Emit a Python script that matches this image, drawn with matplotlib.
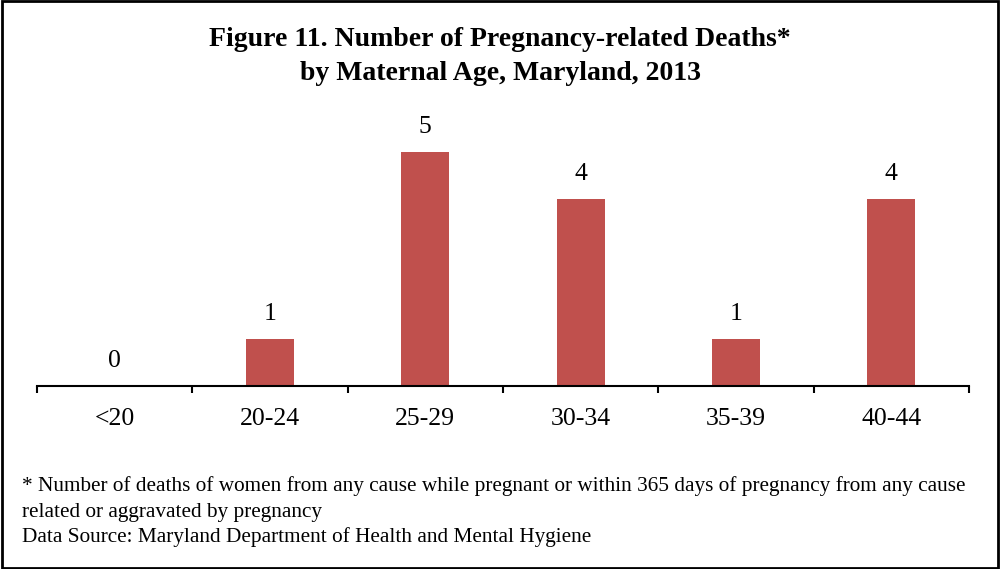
import matplotlib.pyplot as plt
from matplotlib.patches import Rectangle

# Data
age_groups = ['<20', '20-24', '25-29', '30-34', '35-39', '40-44']
deaths = [0, 1, 5, 4, 1, 4]

plt.rcParams['font.family'] = ['Liberation Serif', 'DejaVu Serif']

fig = plt.figure(figsize=(10, 5.69), dpi=100)
ax = fig.add_axes([0.037, 1 - 386 / 569, 0.932, (386 - 152) / 569])

x = range(len(age_groups))
bars = ax.bar(x, deaths, width=0.31, color='#C0504D')

for xi, v in zip(x, deaths):
    ax.annotate(str(v), (xi, v), xytext=(0, 10), textcoords='offset points',
                ha='center', va='bottom', fontsize=18.5, annotation_clip=False)

ax.set_xlim(-0.5, len(age_groups) - 0.5)
ax.set_ylim(0, 5)
ax.set_xticks(list(x))
ax.set_xticklabels(age_groups, fontsize=18.5)
ax.tick_params(axis='x', length=0, pad=16)
ax.set_yticks([])
for s in ['top', 'right', 'left']:
    ax.spines[s].set_visible(False)
ax.spines['bottom'].set_linewidth(1.5)

# tick marks at category boundaries
for b in range(len(age_groups) + 1):
    ax.plot([b - 0.5, b - 0.5], [0, -0.15], color='black', lw=1.5,
            clip_on=False, solid_capstyle='butt')

fig.text(0.5, 1 - 39 / 569, 'Figure 11. Number of Pregnancy-related Deaths*',
         ha='center', va='center', fontsize=20, fontweight='bold')
fig.text(0.5, 1 - 73 / 569, 'by Maternal Age, Maryland, 2013',
         ha='center', va='center', fontsize=20, fontweight='bold')

fig.text(0.022, 1 - 486 / 569,
         '* Number of deaths of women from any cause while pregnant or within 365 days of pregnancy from any cause',
         ha='left', va='center', fontsize=15.3)
fig.text(0.022, 1 - 512 / 569, 'related or aggravated by pregnancy',
         ha='left', va='center', fontsize=15.3)
fig.text(0.022, 1 - 537 / 569, 'Data Source: Maryland Department of Health and Mental Hygiene',
         ha='left', va='center', fontsize=15.3)

fig.patches.append(Rectangle((0.002, 0.002), 0.996, 0.996, transform=fig.transFigure,
                             fill=False, edgecolor='black', lw=2))

fig.savefig('out.png', dpi=100)
